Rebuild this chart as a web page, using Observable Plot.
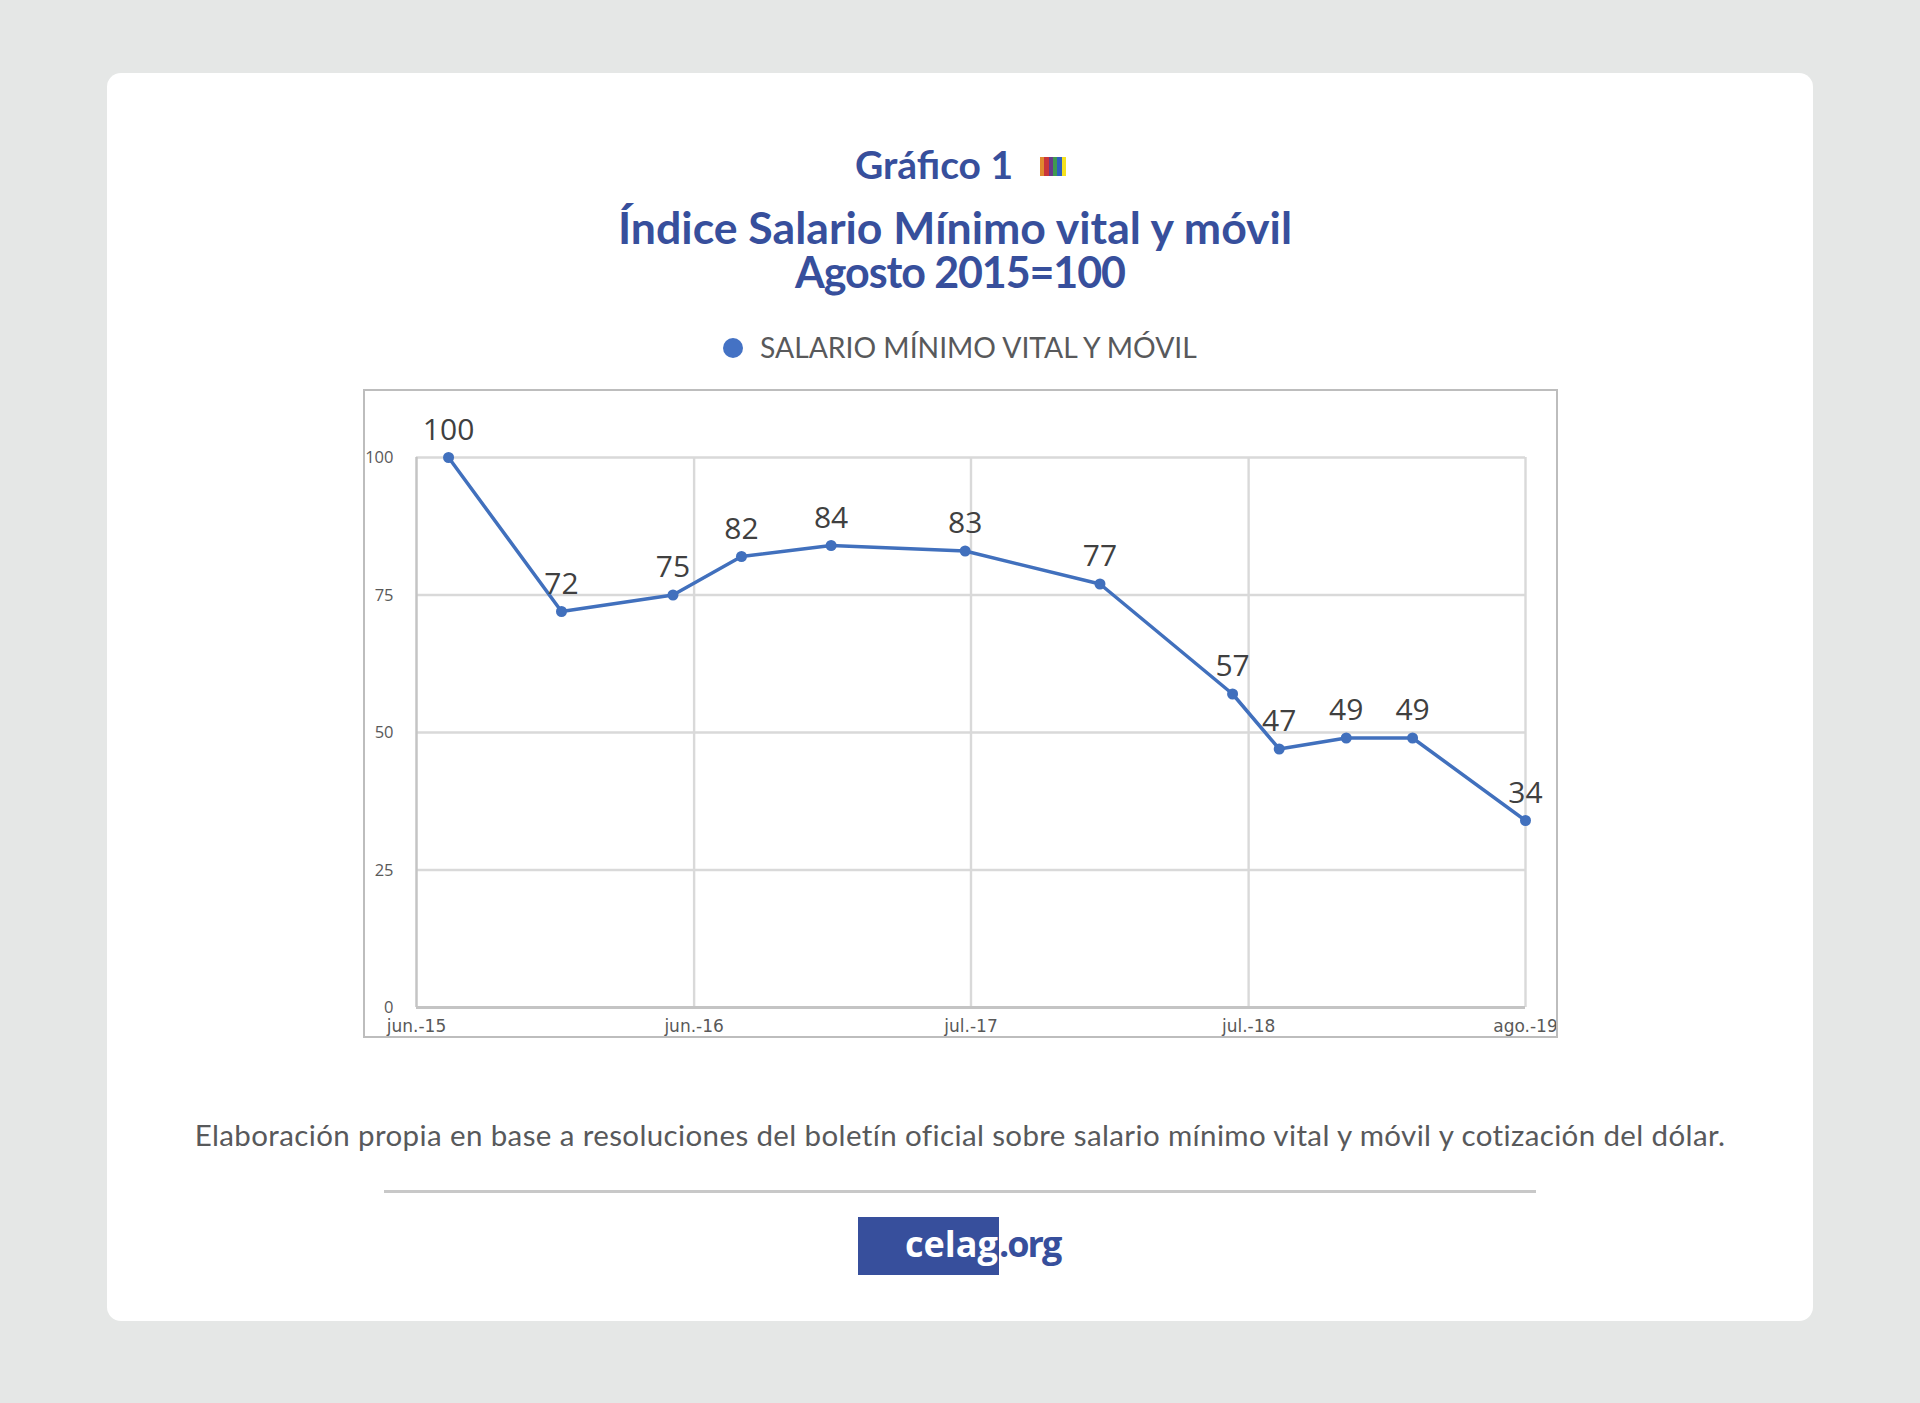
<!DOCTYPE html>
<html lang="es">
<head>
<meta charset="utf-8">
<script src="https://cdn.jsdelivr.net/npm/d3@7"></script>
<script src="https://cdn.jsdelivr.net/npm/@observablehq/plot@0.6"></script>
<style>
  html, body { margin: 0; padding: 0; width: 1920px; height: 1403px; overflow: hidden; background: #e5e7e6; }
  .abs { position: absolute; white-space: nowrap; }
  #card { left: 107px; top: 73px; width: 1706px; height: 1248px; background: #fff; border-radius: 14px; }
  .center { left: 0; width: 1920px; text-align: center; }
  .title { font-family: Lato, sans-serif; font-weight: 700; color: #374f9c; line-height: 1; }
  #chart { left: 364px; top: 390px; width: 1193px; height: 647px; outline: 2.5px solid #bdbdbd; outline-offset: -1px; }
  #chart svg { display: block; background: #fff; }
</style>
</head>
<body>
<div id="card" class="abs"></div>
<div class="abs title" style="left:855px;top:145px;font-size:39px;">Gráfico 1</div>
<div class="abs" id="stripes" style="left:1040px;top:157px;width:26px;height:19px;display:flex;"></div>
<div class="abs center title" style="top:205px;font-size:44.6px;line-height:44.4px;"><span style="position:relative;left:-5px;">Índice Salario Mínimo vital y móvil</span><br><span style="font-size:43px;letter-spacing:-1.1px;">Agosto 2015=100</span></div>
<svg class="abs" style="left:723px;top:338px" width="20" height="20"><circle cx="10" cy="10" r="10" fill="#4472c4"></circle></svg>
<div class="abs" style="left:760px;top:330px;font-family:Lato,sans-serif;font-size:28.3px;line-height:34px;color:#58595b;">SALARIO MÍNIMO VITAL Y MÓVIL</div>
<div id="chart" class="abs"></div>
<div class="abs center" style="top:1117px;font-family:Lato,sans-serif;font-size:29.5px;letter-spacing:0.38px;line-height:36px;color:#58595b;">Elaboración propia en base a resoluciones del boletín oficial sobre salario mínimo vital y móvil y cotización del dólar.</div>
<div class="abs" style="left:384px;top:1190px;width:1152px;height:3px;background:#c8c8c8;"></div>
<div class="abs" style="left:858px;top:1217px;width:141px;height:58px;background:#374f9c;"></div>
<div class="abs" style="left:905px;top:1221px;font-family:'Open Sans',sans-serif;font-weight:700;font-size:36px;line-height:46px;color:#fff;">celag</div>
<div class="abs" style="left:999px;top:1221px;font-family:'Open Sans',sans-serif;font-weight:700;font-size:36px;letter-spacing:-2px;line-height:46px;color:#374f9c;">.org</div>
<script>
const dates = ["2015-07-15","2015-12-17","2016-05-18","2016-08-20","2016-12-21","2017-06-23","2017-12-25","2018-06-25","2018-08-28","2018-11-28","2019-02-27","2019-08-01"];
const values = [100,72,75,82,84,83,77,57,47,49,49,34];
const xTicks = ["2015-06-01","2016-06-16","2017-07-01","2018-07-17","2019-08-01"];
const xLabels = ["jun.-15","jun.-16","jul.-17","jul.-18","ago.-19"];
const yTicks = [0,25,50,75,100];
const stripeColors = ["#e08a2e","#c9353a","#6a3a8a","#3f9a50","#2e5fc0","#f5e21f"];

const rows = dates.map((d, i) => ({date: new Date(d), value: values[i]}));
const xTickDates = xTicks.map(d => new Date(d));

for (const c of stripeColors) {
  const s = document.createElement("div");
  s.style.cssText = "flex:1;background:" + c;
  document.getElementById("stripes").appendChild(s);
}

const plot = Plot.plot({
  width: 1193,
  height: 647,
  marginLeft: 52,
  marginRight: 32,
  marginTop: 67,
  marginBottom: 30,
  style: {background: "#fff", overflow: "visible"},
  x: {type: "utc", domain: [xTickDates[0], xTickDates[4]]},
  y: {domain: [0, 100]},
  marks: [
    Plot.ruleY(yTicks.slice(1), {stroke: "#d9d9d9", strokeWidth: 2.4, strokeOpacity: 1}),
    Plot.ruleX(xTickDates.slice(1), {stroke: "#d9d9d9", strokeWidth: 2.4, strokeOpacity: 1}),
    Plot.ruleX([xTickDates[0]], {stroke: "#c4c4c4", strokeWidth: 2.5, strokeOpacity: 1}),
    Plot.ruleY([0], {stroke: "#c4c4c4", strokeWidth: 3, strokeOpacity: 1}),
    Plot.axisY({ticks: yTicks, tickSize: 0, tickPadding: 23, dy: 0.5, fontSize: 16.5, fontFamily: "'Open Sans',sans-serif", color: "#595959", label: null}),
    Plot.axisX({ticks: xTickDates, tickSize: 0, tickPadding: 12, fontSize: 17, fontFamily: "'DejaVu Sans',sans-serif", color: "#595959", label: null,
      tickFormat: (d, i) => xLabels[i]}),
    Plot.line(rows, {x: "date", y: "value", stroke: "#4170bd", strokeWidth: 3.5, curve: "linear"}),
    Plot.dot(rows, {x: "date", y: "value", r: 5.5, fill: "#4170bd", stroke: "none"}),
    Plot.text(rows, {x: "date", y: "value", text: d => String(d.value), dy: -27.5, fontSize: 30, fontFamily: "'Open Sans',sans-serif", fill: "#404040", textAnchor: "middle", lineAnchor: "middle"})
  ]
});
document.getElementById("chart").appendChild(plot);
</script>
</body>
</html>
